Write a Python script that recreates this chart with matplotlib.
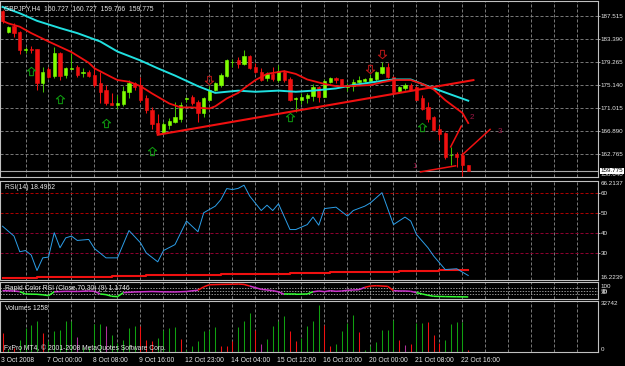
import matplotlib
matplotlib.use('Agg')
import matplotlib.pyplot as plt
import numpy as np
from matplotlib.path import Path
from matplotlib.collections import LineCollection
from matplotlib.transforms import blended_transform_factory

plt.rcParams['font.family'] = ['Liberation Sans', 'DejaVu Sans']
plt.rcParams['lines.scale_dashes'] = False

# ---- price data (GBPJPY H4), bar index 0..81
opens = [188.3, 184.65, 185.67, 184.65, 181.4, 181.5, 181.5, 175.5, 177.9, 176.7,
         180.8, 176.9, 178.0, 178.4, 177.2, 177.5, 176.9, 175.4, 174.3, 171.9,
         171.6, 171.7, 173.9, 175.5, 175.1, 172.7, 170.7, 168.3, 166.5, 167.9,
         168.5, 169.1, 172.6, 173.0, 172.1, 170.1, 172.5, 174.2, 175.1, 176.7,
         179.2, 179.6, 178.9, 180.3, 178.4, 177.5, 176.3, 177.1, 176.0, 177.5,
         176.1, 172.6, 172.5, 172.7, 173.1, 174.7, 173.0, 175.7, 176.3, 176.1,
         174.7, 174.9, 175.7, 175.8, 175.8, 176.1, 177.3, 178.3, 176.6, 174.0,
         174.5, 175.1, 174.7, 172.7, 171.2, 169.4, 167.3, 166.5, 162.5, 162.7,
         162.5, 160.727]
highs = [188.5, 185.7, 186.15, 184.8, 181.96, 182.1, 181.6, 178.4, 178.4, 181.96,
         181.07, 178.4, 180.8, 178.7, 178.1, 177.8, 178.1, 177.5, 175.1, 173.7,
         173.3, 174.9, 176.0, 175.7, 176.5, 173.3, 171.2, 170.0, 168.4, 169.2,
         172.1, 172.1, 173.0, 173.4, 172.5, 173.0, 174.9, 175.7, 177.2, 179.7,
         179.7, 180.2, 181.4, 180.5, 179.0, 178.1, 177.4, 178.3, 178.7, 177.8,
         176.5, 173.0, 173.7, 173.7, 175.3, 174.9, 176.1, 176.5, 176.5, 176.1,
         175.5, 176.1, 176.7, 176.3, 176.9, 177.7, 179.3, 179.1, 176.7, 174.9,
         175.4, 175.5, 174.9, 173.3, 172.1, 169.6, 167.9, 166.7, 164.0, 163.1,
         163.1, 160.727]
lows = [186.3, 184.5, 183.75, 180.65, 180.8, 180.8, 174.2, 173.9, 176.3, 176.3,
        176.0, 176.3, 178.0, 176.6, 176.5, 176.5, 174.7, 171.9, 171.5, 171.5,
        170.8, 171.3, 172.7, 174.3, 172.1, 170.1, 167.3, 166.3, 166.4, 167.3,
        168.3, 168.5, 172.1, 171.5, 168.5, 169.4, 172.4, 174.0, 174.7, 176.5,
        178.4, 178.1, 178.7, 177.9, 177.3, 175.9, 175.9, 175.9, 175.7, 175.7,
        172.2, 170.3, 171.7, 171.9, 172.3, 172.1, 172.9, 175.5, 175.5, 174.7,
        174.1, 174.0, 175.4, 175.6, 175.6, 175.8, 177.1, 176.3, 173.7, 173.7,
        174.3, 174.2, 172.4, 170.7, 168.5, 166.9, 165.2, 161.8, 160.8, 160.5,
        158.9, 159.766]
closes = [186.5, 185.54, 184.47, 181.37, 181.5, 181.4, 175.4, 177.5, 176.6, 180.8,
          176.7, 178.1, 178.2, 176.9, 177.5, 176.7, 175.1, 173.9, 171.8, 171.5,
          171.9, 174.1, 175.5, 174.7, 172.5, 170.6, 168.2, 166.5, 168.1, 168.7,
          169.3, 171.5, 172.8, 171.8, 170.1, 172.7, 174.3, 175.4, 176.9, 179.5,
          179.3, 178.9, 180.3, 178.1, 177.5, 176.0, 177.1, 176.1, 177.7, 176.0,
          172.4, 172.8, 173.0, 173.3, 174.7, 172.9, 175.9, 176.3, 176.0, 174.8,
          175.1, 175.7, 176.0, 176.1, 176.4, 177.5, 178.3, 176.5, 173.9, 174.7,
          175.1, 174.3, 172.5, 170.9, 169.1, 167.0, 166.4, 162.2, 162.6, 162.3,
          160.7, 159.775]

# moving averages (bar, value)
ma_fast_bars = [0, 1, 3, 5, 8, 12, 15, 16, 19, 20, 22, 24, 26, 29, 31, 33, 36, 37, 39, 41,
                42, 44, 46, 49, 51, 53, 56, 58, 60, 62, 64, 66, 68, 71, 73, 75, 77, 80, 81]
ma_fast_vals = [186.6, 186.15, 185.55, 184.4, 182.9, 181.0, 179.1, 178.1, 176.5, 176.0,
                175.7, 174.9, 173.6, 171.8, 171.1, 171.1, 170.9, 171.3, 172.7, 173.7,
                174.5, 176.0, 177.1, 177.6, 177.1, 176.1, 175.3, 174.9, 174.9, 175.0,
                175.1, 175.6, 176.0, 176.0, 175.3, 174.3, 172.4, 170.1, 168.3]
ma_slow_bars = [0, 3, 6, 10, 13, 17, 20, 24, 27, 30, 34, 36, 37, 41, 44, 48, 51, 54, 58,
                61, 65, 68, 71, 74, 78, 81]
ma_slow_vals = [189.1, 187.95, 186.6, 185.3, 184.4, 182.9, 181.1, 179.5, 178.1, 176.8,
                174.9, 174.1, 173.7, 174.1, 173.9, 174.1, 173.9, 174.1, 174.5, 175.1,
                175.7, 176.1, 176.1, 174.9, 173.4, 172.3]

# signal arrows
up_bars = [5, 10, 18, 26, 50, 73]
up_prices = [177.66, 172.59, 168.23, 163.32, 169.31, 167.63]
down_bars = [36, 64, 66]
down_prices = [175.99, 177.91, 180.6]

# drawn objects
trend_bars = [27, 81.9]
trend_prices = [166.2, 175.99]
wave_lines = [([72.7, 78.8], [159.56, 160.64]),
              ([77.95, 79.8], [164.04, 167.75]),
              ([79.9, 84.8], [162.55, 167.16])]
wave_labels = ['1', '2', '3']
wave_label_bars = [71.7, 81.6, 86.5]
wave_label_prices = [160.46, 169.36, 166.73]

price_levels = [187.515, 183.390, 179.265, 175.140, 171.015, 166.890, 162.765]
last_price = 159.775

# RSI(14)
rsi_bars = [0, 2, 3, 4, 5, 6, 7, 8, 9, 10, 11, 12, 13, 15, 16, 18, 20, 22, 24, 25, 27,
            28, 30, 32, 34, 35, 37, 38, 39, 40, 41, 42, 43, 45, 46, 47, 48, 50, 51, 53,
            54, 55, 56, 58, 60, 61, 63, 64, 66, 68, 70, 71, 72, 74, 75, 77, 79, 81]
rsi_vals = [43.4, 38.4, 30.5, 31.1, 28.8, 21.0, 27.4, 27.8, 40.1, 32.5, 37.5, 38.4,
            36.2, 36.7, 32.1, 27.4, 27.4, 41.2, 35.0, 29.9, 25.4, 31.1, 34.1, 46.0,
            40.6, 50.2, 53.5, 56.9, 62.4, 61.9, 62.5, 64.1, 58.6, 51.3, 54.0, 51.3,
            54.7, 41.7, 41.7, 44.2, 48.0, 43.9, 52.3, 53.0, 48.5, 51.3, 53.5, 55.2,
            60.3, 44.2, 48.0, 46.0, 39.2, 32.5, 28.3, 21.5, 21.9, 18.4962]
rsi_levels = [60, 50, 40, 30]
rsi_level_cols = ['#b00000', '#b00000', '#900030', '#900030']
rsi_red_bars = [0, 6, 12, 19, 25, 31, 38, 44, 50, 57, 63, 69, 76, 81]
rsi_red_vals = [17.32, 17.68, 17.98, 18.33, 18.69, 18.99, 19.34, 19.49, 19.85, 20.2,
                20.5, 21.0, 21.36, 21.36]

# Rapid Color RSI (value, colour of the segment that starts there)
rc_bars = [0, 2, 3, 4, 6, 7, 8, 9, 11, 13, 15, 16, 17, 18, 19, 20, 21, 23, 26, 28, 30,
           32, 34, 35, 36, 38, 40, 41, 42, 43, 45, 47, 48, 49, 51, 53, 54, 55, 56, 57,
           58, 59, 60, 61, 62, 63, 64, 65, 66, 67, 68, 69, 70, 71, 72, 73, 74, 75, 77,
           79, 81]
rc_vals = [52, 50, 46, 32, 30, 27, 22, 45, 48, 47, 50, 48, 32, 28, 18, 16, 40, 44, 47,
           45, 44, 47, 55, 75, 88, 90, 91, 92, 90, 80, 60, 52, 45, 30, 30, 32, 45, 50,
           46, 52, 48, 50, 54, 56, 58, 72, 80, 82, 80, 78, 52, 50, 50, 48, 40, 32, 24,
           18, 16, 15, 14]
rc_cols = ['m', 'm', 'g', 'g', 'g', 'g', 'g', 'm', 'm', 'm', 'm', 'm', 'g', 'g', 'g',
           'g', 'm', 'm', 'm', 'm', 'm', 'm', 'r', 'r', 'r', 'r', 'r', 'r', 'r', 'm',
           'm', 'm', 'm', 'g', 'g', 'g', 'm', 'm', 'm', 'm', 'm', 'm', 'm', 'm', 'm',
           'r', 'r', 'r', 'r', 'r', 'm', 'm', 'm', 'm', 'g', 'g', 'g', 'g', 'g', 'g',
           'g']

# Volumes
volumes = [12200, 2000, 2500, 7900, 15400, 17500, 19700, 12200, 6900, 13300,
           14300, 19700, 20100, 9400, 3000, 3000, 18000, 18000, 16900, 11100,
           5800, 7900, 15400, 16500, 16900, 7900, 7300, 9000, 14300, 15400,
           15800, 8500, 1500, 3700, 7300, 13700, 14300, 15800, 3700, 4000,
           6900, 16000, 19700, 25000, 14300, 5100, 8300, 16500, 20100, 22900,
           13300, 6900, 9000, 16500, 19700, 30400, 17500, 3700, 5100, 13700,
           18600, 24000, 12800, 1500, 3700, 6600, 14300, 14300, 20700, 7500,
           4700, 5300, 18600, 18600, 19000, 11100, 5800, 7500, 18200, 19300,
           19300, 1258]
vol_cols = ['r', 'g', 'r', 'g', 'g', 'g', 'g', 'r', 'g', 'g',
            'g', 'g', 'g', 'm', 'g', 'g', 'g', 'g', 'm', 'g',
            'g', 'g', 'g', 'g', 'r', 'r', 'r', 'g', 'g', 'g',
            'g', 'r', 'g', 'g', 'g', 'g', 'g', 'g', 'r', 'r',
            'r', 'g', 'g', 'g', 'r', 'm', 'g', 'g', 'g', 'g',
            'r', 'r', 'g', 'g', 'g', 'g', 'r', 'r', 'g', 'g',
            'g', 'g', 'r', 'g', 'g', 'g', 'g', 'g', 'g', 'r',
            'm', 'r', 'g', 'g', 'r', 'r', 'r', 'g', 'g', 'g',
            'g', 'r']
vol_max = 32742

date_bars = [0, 8, 16, 24, 32, 40, 48, 56, 64, 72, 80]
date_labels = ['3 Oct 2008', '7 Oct 00:00', '8 Oct 08:00', '9 Oct 16:00', '12 Oct 23:00',
               '14 Oct 04:00', '15 Oct 12:00', '16 Oct 20:00', '20 Oct 00:00',
               '21 Oct 08:00', '22 Oct 16:00']

W, H = 625, 366
TXT = '#e8e8e8'
FS = 4.85      # panel texts and date labels
FSR = 4.5      # right-hand scale labels
GRID = '#8c8c8c'
DASH = (0, (2.2, 1.4))

fig = plt.figure(figsize=(W / 100, H / 100), dpi=100, facecolor='black')


def panel(top, bottom, left=0, right=598):
    ax = fig.add_axes([left / W, 1 - bottom / H, (right - left) / W, (bottom - top) / H])
    ax.set_facecolor('black')
    for s in ax.spines.values():
        s.set_color('#c0c0c0')
        s.set_linewidth(0.8)
    ax.set_xlim(-0.435, 103.57)
    ax.set_xticks([])
    ax.yaxis.tick_right()
    ax.tick_params(axis='y', colors='#c0c0c0', labelcolor=TXT, labelsize=FSR,
                   length=1.2, width=0.6, pad=0.6)
    for b in range(4, 104, 4):
        ax.axvline(b, color=GRID, ls=DASH, lw=0.6, zorder=0)
    return ax


ax = panel(1, 177)
ax_rsi = panel(181, 280)
ax_rc = panel(282, 299)
ax_vol = panel(301, 352)
XR = 1.004  # right label position in axes fraction

# ---- main chart
ax.set_ylim(158.64, 190.15)
ax.set_yticks(price_levels)
ax.set_yticklabels([f'{v:.3f}' for v in price_levels])
for v in price_levels:
    ax.axhline(v, color=GRID, ls=DASH, lw=0.6, zorder=0)
ax.axhline(last_price, color='#a8a8a8', lw=0.8, zorder=1)

idx = np.arange(len(opens))
for i in idx:
    o, h, l, c = opens[i], highs[i], lows[i], closes[i]
    bull = c >= o
    body = '#80ff00' if bull else '#f01010'
    wick = '#40c000' if bull else '#f01010'
    ax.vlines(i, l, h, color=wick, lw=0.75, zorder=2)
    ax.bar(i, max(abs(c - o), 0.08), bottom=min(o, c), width=0.58, color=body,
           edgecolor=body, linewidth=0.4, zorder=2)

ax.plot(ma_slow_bars, ma_slow_vals, color='#20e0e0', lw=1.4, zorder=3)
ax.plot(ma_fast_bars, ma_fast_vals, color='#f01010', lw=1.3, zorder=3)
ax.plot(trend_bars, trend_prices, color='#f01010', lw=1.5, zorder=4)
for xs, ys in wave_lines:
    ax.plot(xs, ys, color='#f01010', lw=1.1, zorder=4)
for lbl, b, p in zip(wave_labels, wave_label_bars, wave_label_prices):
    ax.text(b, p, lbl, color='#a01848', fontsize=5.8, ha='center', va='center', zorder=5)

up_arrow = Path([(0, 1), (1, 0.15), (0.45, 0.15), (0.45, -1), (-0.45, -1), (-0.45, 0.15),
                 (-1, 0.15), (0, 1)], closed=True)
down_arrow = Path([(0, -1), (1, -0.15), (0.45, -0.15), (0.45, 1), (-0.45, 1),
                   (-0.45, -0.15), (-1, -0.15), (0, -1)], closed=True)
ax.plot(up_bars, up_prices, ls='none', marker=up_arrow, ms=6, mfc='none', mec='#10a010',
        mew=0.7, zorder=5)
ax.plot(down_bars, down_prices, ls='none', marker=down_arrow, ms=6, mfc='none',
        mec='#c01818', mew=0.7, zorder=5)

rtrans = blended_transform_factory(ax.transAxes, ax.transData)
ax.text(XR, 158.64, '158.640', transform=rtrans, color=TXT, fontsize=FSR,
        ha='left', va='bottom', clip_on=False)
ax.text(XR, last_price, f'{last_price:.3f}', transform=rtrans, color='black',
        fontsize=FSR, ha='left', va='center', clip_on=False,
        bbox=dict(facecolor='white', edgecolor='none', pad=0.4))
ax.text(0.006, 0.955, 'GBPJPY,H4  160.727  160.727  159.766  159.775',
        transform=ax.transAxes, color=TXT, fontsize=FS, ha='left', va='center')

# ---- RSI
rsi_lo, rsi_hi = 16.2239, 66.2137
ax_rsi.set_ylim(rsi_lo, rsi_hi)
ax_rsi.set_yticks(rsi_levels)
ax_rsi.set_yticklabels([str(v) for v in rsi_levels])
for v, col in zip(rsi_levels, rsi_level_cols):
    ax_rsi.axhline(v, color=col, ls=DASH, lw=0.7, zorder=1)
ax_rsi.step(rsi_red_bars, rsi_red_vals, where='post', color='#f01010', lw=1.5, zorder=2)
ax_rsi.plot(rsi_bars, rsi_vals, color='#2c9ee8', lw=0.7, zorder=3)
rt = blended_transform_factory(ax_rsi.transAxes, ax_rsi.transData)
ax_rsi.text(XR, rsi_hi, f'{rsi_hi:.4f}', transform=rt, color=TXT, fontsize=FSR,
            ha='left', va='top', clip_on=False)
ax_rsi.text(XR, rsi_lo, f'{rsi_lo:.4f}', transform=rt, color=TXT, fontsize=FSR,
            ha='left', va='bottom', clip_on=False)
ax_rsi.text(0.008, 0.93, 'RSI(14) 18.4962', transform=ax_rsi.transAxes, color=TXT,
            fontsize=FS, ha='left', va='center')

# ---- Rapid Color RSI
ax_rc.set_ylim(1.5, 104.5)
ax_rc.set_yticks([])
for v in [70, 50, 30]:
    ax_rc.axhline(v, color='#d0d0d0', ls=(0, (1, 1)), lw=0.5, zorder=1)
cmap = {'m': '#cc33cc', 'g': '#33ff33', 'r': '#ff1010'}
segs = [[(rc_bars[i], rc_vals[i]), (rc_bars[i + 1], rc_vals[i + 1])]
        for i in range(len(rc_bars) - 1)]
ax_rc.add_collection(LineCollection(segs, colors=[cmap[c] for c in rc_cols[:-1]],
                                    linewidths=1.1, zorder=2))
ct = blended_transform_factory(ax_rc.transAxes, ax_rc.transData)
for lbl, v in [('100', 76), ('70', 44), ('30', 38)]:
    ax_rc.text(XR, v, lbl, transform=ct, color=TXT, fontsize=FSR, ha='left',
               va='center', clip_on=False)
ax_rc.text(0.008, 0.62, 'Rapid Color RSI (Close,70,30) (9) 1.1746',
           transform=ax_rc.transAxes, color=TXT, fontsize=FS, ha='left', va='center',
           zorder=3)

# ---- Volumes
ax_vol.set_ylim(0, vol_max)
ax_vol.set_yticks([])
vmap = {'g': '#10a010', 'r': '#f01010', 'm': '#b0309a'}
ax_vol.vlines(idx, 0, volumes, colors=[vmap[c] for c in vol_cols], lw=0.75, zorder=2)
vt = blended_transform_factory(ax_vol.transAxes, ax_vol.transData)
ax_vol.text(XR, vol_max, str(vol_max), transform=vt, color=TXT, fontsize=FSR,
            ha='left', va='top', clip_on=False)
ax_vol.text(XR, 0, '0', transform=vt, color=TXT, fontsize=FSR, ha='left',
            va='bottom', clip_on=False)
ax_vol.text(0.008, 0.86, 'Volumes 1258', transform=ax_vol.transAxes, color=TXT,
            fontsize=FS, ha='left', va='center')
ax_vol.text(0.006, 0.08, 'FxPro MT4, \u00a9 2001-2008 MetaQuotes Software Corp.',
            transform=ax_vol.transAxes, color=TXT, fontsize=FS, ha='left',
            va='center', zorder=3)

xt = blended_transform_factory(ax_vol.transData, fig.transFigure)
for b, lbl in zip(date_bars, date_labels):
    ax_vol.text(b - 0.2, 1 - 360.5 / H, lbl, transform=xt, color=TXT, fontsize=FS,
                ha='left', va='center', clip_on=False)

fig.savefig('out.png', dpi=100, facecolor='black')
